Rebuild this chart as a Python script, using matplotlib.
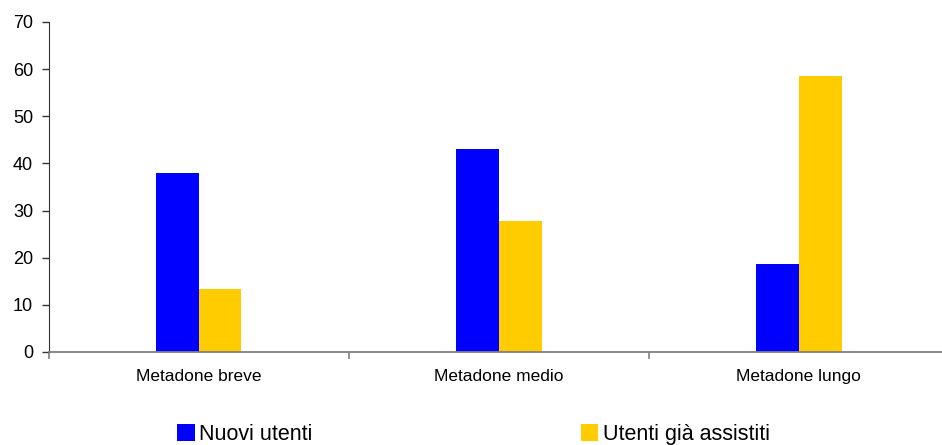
import matplotlib
matplotlib.use("Agg")
import matplotlib.pyplot as plt
from matplotlib import font_manager
from matplotlib.patches import Patch
import numpy as np

categories = ["Metadone breve", "Metadone medio", "Metadone lungo"]
series_names = ["Nuovi utenti", "Utenti già assistiti"]
nuovi = [38.0, 43.1, 18.7]
assistiti = [13.4, 27.8, 58.6]
colors = ["#0000FF", "#FFCC00"]

names = {f.name for f in font_manager.fontManager.ttflist}
base = "Liberation Sans" if "Liberation Sans" in names else "DejaVu Sans"
plt.rcParams["font.family"] = [base, "DejaVu Sans"]

fig = plt.figure(figsize=(9.42, 4.45), dpi=100)
# axis extends slightly past the right edge of the figure, as in the reference
ax = fig.add_axes([48.5/942, 1-352/445, 900.5/942, 330/445])

x = np.arange(len(categories))
w = 1/7
ax.bar(x - w/2, nuovi, width=w, color=colors[0], linewidth=0)
ax.bar(x + w/2, assistiti, width=w, color=colors[1], linewidth=0)

ax.set_xlim(-0.5, len(categories) - 0.5)
ax.set_ylim(0, 70)
ax.set_yticks(range(0, 71, 10))
ax.tick_params(axis="y", labelsize=13, length=5, width=1, direction="out", pad=6, color="#333333")
ax.set_xticks(x)
ax.set_xticklabels(categories, fontsize=12.5)
ax.tick_params(axis="x", length=0, pad=12)
ax.set_xticks(np.arange(-0.5, len(categories), 1), minor=True)
ax.tick_params(axis="x", which="minor", length=5, width=1.2, color="#808080")

for s in ["top", "right"]:
    ax.spines[s].set_visible(False)
ax.spines["left"].set_color("#333333")
ax.spines["bottom"].set_color("#808080")
ax.spines["bottom"].set_linewidth(1.3)

handles = [Patch(facecolor=c, edgecolor="none") for c in colors]
fig.legend(handles, series_names, loc="lower left", bbox_to_anchor=(177/942, 0.0),
           ncol=2, frameon=False, handlelength=0.82, handleheight=0.82, handletextpad=0.22,
           columnspacing=12.45, prop={"size": 15.5}, borderaxespad=0, borderpad=0)

fig.savefig("out.png", dpi=100)
